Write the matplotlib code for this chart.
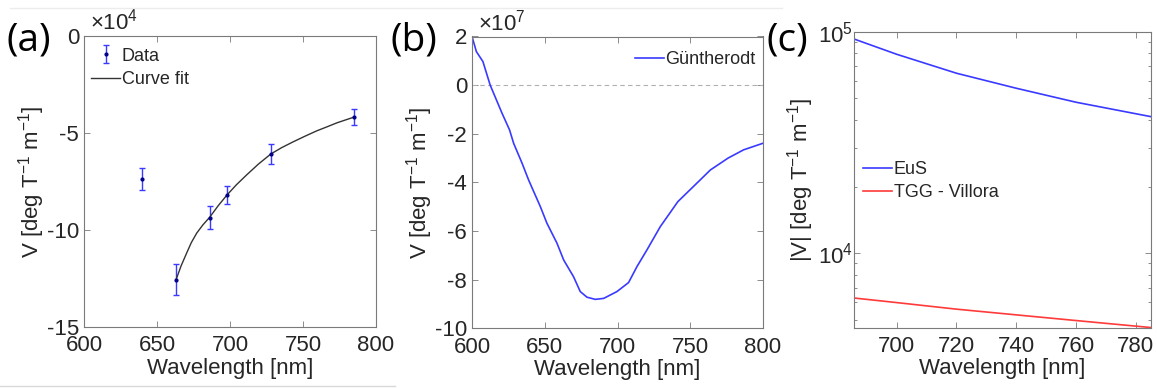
import matplotlib
matplotlib.use("Agg")
import matplotlib.pyplot as plt
import numpy as np
from matplotlib.ticker import FixedLocator, LogLocator, NullFormatter, FuncFormatter
from matplotlib.lines import Line2D

# ---------------- data ----------------
# (a) measured Verdet constant (units of 1e4 deg T^-1 m^-1)
a_wl = [640, 663, 686, 698, 728, 785]
a_v = [-7.37, -12.57, -9.36, -8.19, -6.08, -4.18]
a_err = [0.56, 0.80, 0.58, 0.45, 0.50, 0.41]
# (a) curve fit
fit_wl = [663, 666.5, 670.3, 673.5, 677.2, 681.5, 686, 692, 698, 704.5, 711.4,
          719.5, 728, 735.5, 743.4, 751.5, 759.4, 766.5, 773.1, 779, 785]
fit_v = [-12.57, -11.85, -11.19, -10.65, -10.16, -9.73, -9.35, -8.74, -8.19,
         -7.66, -7.16, -6.60, -6.08, -5.75, -5.45, -5.16, -4.89, -4.68, -4.48,
         -4.33, -4.18]

# (b) Guntherodt (units of 1e7 deg T^-1 m^-1)
b_wl = [600, 603, 607.5, 612.5, 620.6, 625.8, 628.6, 634.4, 638.9, 647, 651.5,
        658.4, 663, 669.8, 674.4, 679, 684.7, 690.5, 699.6, 707.6, 713.4, 720.2,
        729.4, 741.5, 756.8, 763.8, 776, 786.7, 800]
b_v = [2.0, 1.38, 0.97, 0.0, -1.15, -1.84, -2.39, -3.21, -3.9, -5.0, -5.68,
       -6.5, -7.19, -7.88, -8.49, -8.72, -8.81, -8.77, -8.49, -8.12, -7.46, -6.78,
       -5.82, -4.79, -3.9, -3.49, -3.0, -2.66, -2.39]

# (c) |V|
c_wl = [686, 700, 720, 740, 760, 785]
c_eus = [92400, 79070, 64940, 55560, 48040, 41370]
c_tgg = [6270, 5985, 5590, 5268, 4966, 4618]

# ---------------- style ----------------
plt.rcParams['font.family'] = ['Liberation Sans', 'DejaVu Sans']
plt.rcParams['mathtext.fontset'] = 'custom'
plt.rcParams['mathtext.rm'] = 'Liberation Sans'
plt.rcParams['mathtext.it'] = 'Liberation Sans'
plt.rcParams['mathtext.default'] = 'regular'
plt.rcParams['axes.unicode_minus'] = False
TXT = '#262626'
SPINE = '#7a7a7a'
FS = 16
BLUE = '#3a3aff'
RED = '#ff3a3a'

W, H = 1157, 388
fig = plt.figure(figsize=(W / 100, H / 100), dpi=100)


def style(ax):
    for s in ax.spines.values():
        s.set_color(SPINE)
        s.set_linewidth(0.8)
    ax.tick_params(which='both', direction='in', top=True, right=True,
                   colors=SPINE, labelcolor=TXT, labelsize=FS, width=0.6)
    ax.tick_params(which='major', length=4.5)
    ax.tick_params(which='minor', length=2.5)
    ax.tick_params(axis='x', pad=6)


def axrect(l, t, r, b):
    return [l / W, 1 - b / H, (r - l) / W, (b - t) / H]


ylab = 'V [deg T$^{-1}$ m$^{-1}$]'

# ---------- (a) ----------
ax1 = fig.add_axes(axrect(84, 36, 376, 327))
eb = ax1.errorbar(a_wl, a_v, yerr=a_err, fmt='.', color='#0000ff', ecolor=BLUE,
                  markersize=4, elinewidth=1.0, capsize=2.5, capthick=1.0,
                  markerfacecolor='#00008b', markeredgecolor='#00008b')
fl, = ax1.plot(fit_wl, fit_v, color='#333333', lw=1.0)
ax1.set_xlim(600, 800)
ax1.set_ylim(-15, 0)
ax1.set_xticks([600, 650, 700, 750, 800])
ax1.set_yticks([-15, -10, -5, 0])
style(ax1)
ax1.set_xlabel('Wavelength [nm]', fontsize=FS, color=TXT, labelpad=1)
ax1.set_ylabel(ylab, fontsize=FS, color=TXT, labelpad=0)
ax1.text(0.02, 1.005, '$\\times10^{4}$', transform=ax1.transAxes, fontsize=FS,
         color=TXT, ha='left', va='bottom')
leg1 = ax1.legend([eb, fl], ['Data', 'Curve fit'], loc='upper left',
                  bbox_to_anchor=(0.0, 0.985), frameon=False, fontsize=13,
                  handlelength=1.6, handletextpad=0.1, borderaxespad=0.1,
                  labelspacing=0.35, borderpad=0.3)
for t in leg1.get_texts():
    t.set_color(TXT)

# ---------- (b) ----------
ax2 = fig.add_axes(axrect(472, 36.5, 763, 328.3))
ax2.axhline(0, color='#b0b0b0', lw=0.8, ls=(0, (4, 3)))
ax2.plot(b_wl, b_v, color=BLUE, lw=1.2, label='Güntherodt')
ax2.set_xlim(600, 800)
ax2.set_ylim(-10, 2)
ax2.set_xticks([600, 650, 700, 750, 800])
ax2.set_yticks([-10, -8, -6, -4, -2, 0, 2])
style(ax2)
ax2.set_xlabel('Wavelength [nm]', fontsize=FS, color=TXT, labelpad=1)
ax2.set_ylabel(ylab, fontsize=FS, color=TXT, labelpad=0)
ax2.text(0.02, 1.005, '$\\times10^{7}$', transform=ax2.transAxes, fontsize=FS,
         color=TXT, ha='left', va='bottom')
leg2 = ax2.legend(loc='upper right', bbox_to_anchor=(1.0, 0.975), frameon=False,
                  fontsize=13, handlelength=1.6, handletextpad=0.1,
                  borderaxespad=0.1, borderpad=0.3)
for t in leg2.get_texts():
    t.set_color(TXT)

# ---------- (c) ----------
ax3 = fig.add_axes(axrect(854, 31.7, 1151, 327.7))
ax3.plot(c_wl, c_eus, color=BLUE, lw=1.2, label='EuS')
ax3.plot(c_wl, c_tgg, color=RED, lw=1.2, label='TGG - Villora')
ax3.set_yscale('log')
ax3.set_xlim(685.7, 785.1)
ax3.set_ylim(4610, 1e5)
ax3.set_xticks([700, 720, 740, 760, 780])
ax3.yaxis.set_major_locator(FixedLocator([1e4, 1e5]))
ax3.yaxis.set_major_formatter(FuncFormatter(lambda v, p: '$10^{%d}$' % round(np.log10(v))))
ax3.yaxis.set_minor_locator(LogLocator(base=10, subs=np.arange(2, 10)))
ax3.yaxis.set_minor_formatter(NullFormatter())
style(ax3)
ax3.tick_params(axis='y', pad=1)
ax3.set_xlabel('Wavelength [nm]', fontsize=FS, color=TXT, labelpad=1)
ax3.set_ylabel('|V| [deg T$^{-1}$ m$^{-1}$]', fontsize=FS, color=TXT, labelpad=1)
leg3 = ax3.legend(loc='center left', bbox_to_anchor=(0.0, 0.495), frameon=False,
                  fontsize=13, handlelength=1.6, handletextpad=0.1,
                  borderaxespad=0.1, labelspacing=0.3)
for t in leg3.get_texts():
    t.set_color(TXT)

# ---------- panel labels ----------
for x, lab in [(6, '(a)'), (390, '(b)'), (766, '(c)')]:
    fig.text(x / W, 1 - 40 / H, lab, fontsize=28, family='Open Sans',
             color='black', ha='left', va='center')

# faint scan borders
fig.add_artist(Line2D([10 / W, 782 / W], [1 - 8 / H, 1 - 8 / H], color='#ececec', lw=1))
fig.add_artist(Line2D([0, 395 / W], [1 - 386 / H, 1 - 386 / H], color='#d8d8d8', lw=1))

fig.savefig('out.png', dpi=100)
